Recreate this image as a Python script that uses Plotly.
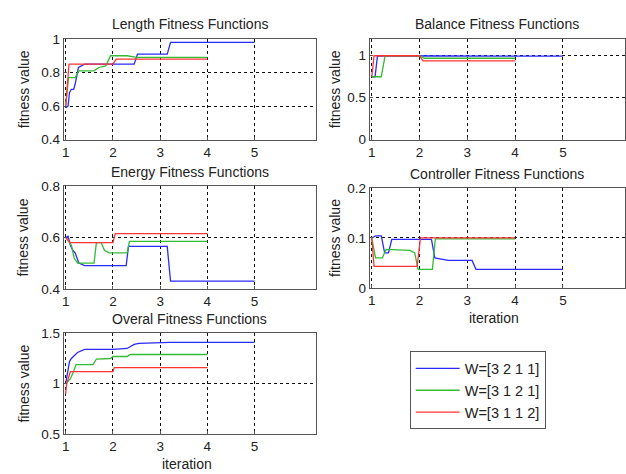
import plotly.graph_objects as go

# ---------------- data ----------------
series_names = ["W=[3 2 1 1]", "W=[3 1 2 1]", "W=[3 1 1 2]"]
series_colors = ["#2a2aff", "#33bb33", "#ff3333"]

# Length fitness
len_blue_x = [1, 1.05, 1.08, 1.12, 1.17, 1.2, 1.27, 1.4, 2.45, 2.52, 3.15, 3.22, 5]
len_blue_y = [0.59, 0.6, 0.68, 0.70, 0.70, 0.73, 0.83, 0.85, 0.85, 0.91, 0.91, 0.98, 0.98]
len_green_x = [1, 1.06, 1.2, 1.28, 1.6, 1.7, 1.85, 1.95, 2.3, 2.5, 4]
len_green_y = [0.6, 0.77, 0.77, 0.81, 0.81, 0.83, 0.84, 0.90, 0.90, 0.89, 0.89]
len_red_x = [1, 1.07, 2.0, 2.07, 4]
len_red_y = [0.6, 0.85, 0.85, 0.88, 0.88]

# Balance fitness
bal_blue_x = [1, 1.07, 1.12, 2.0, 2.3, 5]
bal_blue_y = [0.75, 0.75, 1.0, 1.0, 0.995, 0.995]
bal_green_x = [1, 1.2, 1.28, 2.0, 2.1, 4]
bal_green_y = [0.75, 0.75, 1.0, 1.0, 0.97, 0.97]
bal_red_x = [1, 1.05, 2.0, 2.07, 4]
bal_red_y = [0.75, 1.0, 1.0, 0.94, 0.94]

# Energy fitness
en_blue_x = [1, 1.05, 1.1, 1.15, 1.2, 1.28, 1.4, 2.28, 2.33, 3.15, 3.22, 5]
en_blue_y = [0.6, 0.605, 0.57, 0.55, 0.54, 0.50, 0.49, 0.49, 0.565, 0.565, 0.43, 0.43]
en_green_x = [1, 1.12, 1.18, 1.25, 1.6, 1.65, 1.75, 1.82, 1.92, 2.3, 2.35, 4]
en_green_y = [0.6, 0.57, 0.52, 0.50, 0.50, 0.58, 0.58, 0.55, 0.54, 0.54, 0.585, 0.585]
en_red_x = [1, 1.1, 2.0, 2.05, 4]
en_red_y = [0.6, 0.58, 0.58, 0.615, 0.615]

# Controller fitness
ct_blue_x = [1, 1.08, 1.2, 1.27, 1.35, 1.42, 2.25, 2.32, 2.6, 3.1, 3.18, 5]
ct_blue_y = [0.1, 0.104, 0.104, 0.07, 0.07, 0.097, 0.097, 0.06, 0.055, 0.055, 0.037, 0.037]
ct_green_x = [1, 1.08, 1.22, 1.3, 1.8, 1.9, 1.97, 2.27, 2.33, 4]
ct_green_y = [0.1, 0.06, 0.06, 0.077, 0.075, 0.07, 0.037, 0.037, 0.098, 0.098]
ct_red_x = [1, 1.05, 1.95, 2.02, 4]
ct_red_y = [0.1, 0.043, 0.043, 0.1, 0.1]

# Overall fitness
ov_blue_x = [1, 1.03, 1.08, 1.12, 1.18, 1.25, 1.4, 2.0, 2.3, 2.45, 2.55, 3.2, 5]
ov_blue_y = [1.0, 1.1, 1.22, 1.25, 1.28, 1.31, 1.34, 1.34, 1.35, 1.39, 1.40, 1.41, 1.41]
ov_green_x = [1, 1.1, 1.15, 1.22, 1.58, 1.65, 1.95, 2.0, 2.3, 2.37, 4]
ov_green_y = [1.0, 1.05, 1.1, 1.19, 1.19, 1.245, 1.25, 1.27, 1.27, 1.29, 1.29]
ov_red_x = [1, 1.02, 1.1, 2.0, 2.03, 4]
ov_red_y = [0.9, 1.0, 1.12, 1.12, 1.16, 1.16]

x_ticks = [1, 2, 3, 4, 5]
panel_titles = ["Length Fitness Functions", "Balance Fitness Functions",
                "Energy Fitness Functions", "Controller Fitness Functions",
                "Overal Fitness Functions"]
y_ranges = [[0.4, 1.0], [0, 1.2], [0.4, 0.8], [0, 0.2], [0.5, 1.5]]
y_ticks = [[0.4, 0.6, 0.8, 1], [0, 0.5, 1], [0.4, 0.6, 0.8], [0, 0.1, 0.2], [0.5, 1, 1.5]]
y_ticktext = [["0.4", "0.6", "0.8", "1"], ["0", "0.5", "1"], ["0.4", "0.6", "0.8"],
              ["0", "0.1", "0.2"], ["0.5", "1", "1.5"]]
y_label = "fitness value"
x_label = "iteration"

panels = [
    [(len_blue_x, len_blue_y), (len_green_x, len_green_y), (len_red_x, len_red_y)],
    [(bal_blue_x, bal_blue_y), (bal_green_x, bal_green_y), (bal_red_x, bal_red_y)],
    [(en_blue_x, en_blue_y), (en_green_x, en_green_y), (en_red_x, en_red_y)],
    [(ct_blue_x, ct_blue_y), (ct_green_x, ct_green_y), (ct_red_x, ct_red_y)],
    [(ov_blue_x, ov_blue_y), (ov_green_x, ov_green_y), (ov_red_x, ov_red_y)],
]

# ---------------- layout (pixel boxes) ----------------
W, H = 626, 474
boxes = [  # x0, x1, y0(top), y1(bottom) in px
    (62, 315, 33, 137),
    (369, 625, 33, 137),
    (62, 315, 185, 291),
    (369, 625, 187, 290),
    (62, 315, 337, 441),
]
FONT = "Liberation Sans, Arial, sans-serif"
TXT = "#222222"
TICK_SIZE = 13.5
LABEL_SIZE = 14

fig = go.Figure()
layout = dict(
    width=W, height=H, margin=dict(l=0, r=0, t=0, b=0),
    paper_bgcolor="white", plot_bgcolor="white",
    font=dict(family=FONT, size=LABEL_SIZE, color=TXT),
    showlegend=True,
    legend=dict(x=409 / W, y=1 - 396 / H, xanchor="left", yanchor="middle",
                bordercolor="#555555", borderwidth=1, bgcolor="white",
                font=dict(size=14.5, color=TXT), traceorder="normal",
                itemwidth=44, tracegroupgap=0),
)
annotations = []

for i, (box, traces) in enumerate(zip(boxes, panels)):
    n = "" if i == 0 else str(i + 1)
    x0, x1, t, b = box
    xa = dict(domain=[x0 / W, x1 / W], range=[0.96, 6.3], anchor="y" + n,
              tickvals=x_ticks, ticktext=[str(v) for v in x_ticks],
              showgrid=True, gridcolor="#111111", griddash="dot", gridwidth=1,
              showline=True, mirror=True, linecolor="#555555", linewidth=1,
              ticks="inside", ticklen=3, tickcolor="#555555", zeroline=False,
              tickfont=dict(size=TICK_SIZE, color=TXT), fixedrange=True)
    ya = dict(domain=[1 - b / H, 1 - t / H], range=y_ranges[i], anchor="x" + n,
              tickvals=y_ticks[i], ticktext=y_ticktext[i],
              showgrid=True, gridcolor="#111111", griddash="dot", gridwidth=1,
              showline=True, mirror=True, linecolor="#555555", linewidth=1,
              ticks="inside", ticklen=3, tickcolor="#555555", zeroline=False,
              tickfont=dict(size=TICK_SIZE, color=TXT), fixedrange=True)
    layout["xaxis" + n] = xa
    layout["yaxis" + n] = ya
    for k, (xs, ys) in enumerate(traces):
        fig.add_trace(go.Scatter(
            x=xs, y=ys, mode="lines", name=series_names[k],
            line=dict(color=series_colors[k], width=1.3),
            xaxis="x" + n, yaxis="y" + n,
            showlegend=(i == 4),
        ))
    cx = (x0 + x1) / 2
    annotations.append(dict(text=panel_titles[i], x=cx / W, y=1 - (t - 15) / H,
                            xref="paper", yref="paper", showarrow=False,
                            font=dict(size=LABEL_SIZE, color=TXT),
                            xanchor="center", yanchor="middle"))
    ylx = 22 if x0 < 100 else 334
    annotations.append(dict(text=y_label, x=ylx / W, y=1 - ((t + b) / 2) / H,
                            xref="paper", yref="paper", showarrow=False,
                            textangle=-90, font=dict(size=LABEL_SIZE, color=TXT),
                            xanchor="center", yanchor="middle"))
    if i in (3, 4):
        annotations.append(dict(text=x_label, x=cx / W - 0.005, y=1 - (b + 31) / H,
                                xref="paper", yref="paper", showarrow=False,
                                font=dict(size=LABEL_SIZE, color=TXT),
                                xanchor="center", yanchor="middle"))

layout["annotations"] = annotations
fig.update_layout(**layout)
fig.write_html("out.html")
